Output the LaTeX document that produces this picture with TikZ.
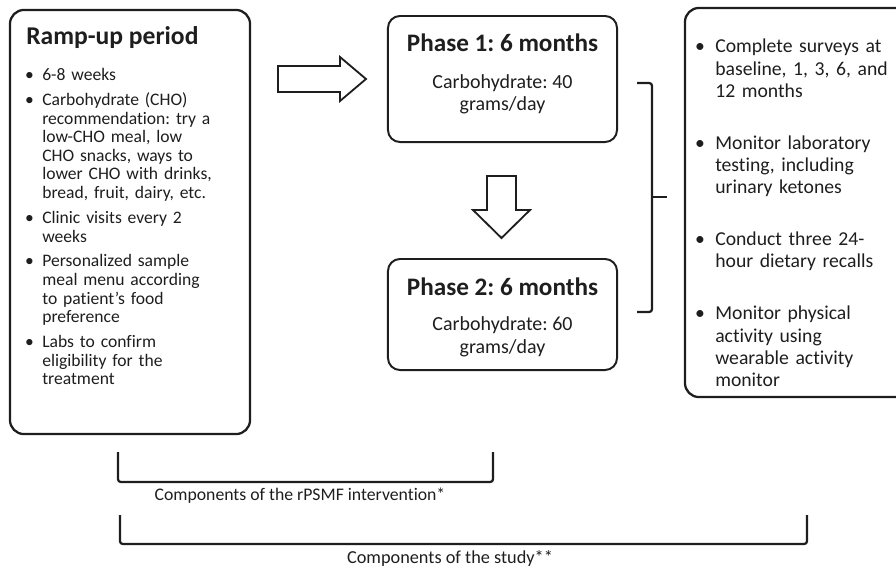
\documentclass[tikz,border=0pt]{standalone}
\usepackage{fontspec}
\setmainfont{Carlito}[Ligatures=CommonOff]
\usepackage{enumitem}
\usetikzlibrary{positioning}

\definecolor{inkgray}{HTML}{1E1E1E}
\frenchspacing

\tikzset{
  panel/.style={draw=inkgray, line width=1.6pt, rounded corners=0.35cm},
  phasebox/.style={draw=inkgray, line width=1.4pt, rounded corners=0.3cm, minimum width=5.725cm},
  phasetext/.style={text=inkgray, align=center, inner sep=0pt, font=\fontsize{14.2}{16}\selectfont},
  listtext/.style={text=inkgray, inner sep=0pt, align=left, anchor=north west},
  blockarrow/.style={draw=inkgray, line width=1.3pt, line join=miter},
  bracket/.style={draw=inkgray, line width=1.6pt, rounded corners=2pt},
  caption/.style={text=inkgray, inner sep=0pt},
}

\begin{document}
\begin{tikzpicture}[x=0.025cm, y=-0.025cm]
    \useasboundingbox (0,0) rectangle (896,568);

    % the three panels
    \node[panel, minimum width=6cm, minimum height=10.6cm] (ramp) at (130,222) {};
    \node[phasebox, minimum height=3.15cm] (phaseone) at (502.5,79) {};
    \node[phasebox, minimum height=2.775cm] (phasetwo) at (502.5,314.5) {};
    \node[panel, minimum width=5.875cm, minimum height=9.725cm] (study) at (802.5,202.5) {};

    % ramp-up text
    \node[text=inkgray, inner sep=0pt, anchor=base west, font=\fontsize{18.2}{21}\selectfont\bfseries] (ramptitle) at (26,44) {Ramp-up period};
    \node[listtext, text width=6cm, font=\fontsize{12.5}{13.2}\selectfont] (ramplist) at (17,62) {
        \begin{itemize}[leftmargin=0.625cm, labelsep=0.21cm, nosep, itemsep=4.5pt]
            \item 6-8 weeks
            \item Carbohydrate (CHO)\\ recommendation: try a\\ low-CHO meal, low\\ CHO snacks, ways to\\ lower CHO with drinks,\\ bread, fruit, dairy, etc.
            \item Clinic visits every 2\\ weeks
            \item Personalized sample\\ meal menu according\\ to patient’s food\\ preference
            \item Labs to confirm\\ eligibility for the\\ treatment
        \end{itemize}
    };

    % phase text
    \node[phasetext, anchor=north] (phaseonetxt) at ([yshift=-0.47cm]phaseone.north) {{\fontsize{17.9}{20}\selectfont\bfseries Phase 1: 6 months}\\[10pt] Carbohydrate: 40\\ grams/day};
    \node[phasetext, anchor=north] (phasetwotxt) at ([yshift=-0.49cm]phasetwo.north) {{\fontsize{17.9}{20}\selectfont\bfseries Phase 2: 6 months}\\[9pt] Carbohydrate: 60\\ grams/day};

    % study text
    \node[listtext, text width=6cm, font=\fontsize{14}{15.9}\selectfont] (studylist) at (690,30) {
        \begin{itemize}[leftmargin=0.625cm, labelsep=0.26cm, nosep, itemsep=20.9pt]
            \item Complete surveys at\\ baseline, 1, 3, 6, and\\ 12 months
            \item Monitor laboratory\\ testing, including\\ urinary ketones
            \item Conduct three 24-\\ hour dietary recalls
            \item Monitor physical\\ activity using\\ wearable activity\\ monitor
        \end{itemize}
    };

    % block arrows
    \draw[blockarrow] (278,66) -- (340,66) -- (340,57) -- (366,79) -- (340,101) -- (340,92) -- (278,92) -- cycle;
    \draw[blockarrow] (487,176) -- (516,176) -- (516,210) -- (530,210) -- (501.5,238) -- (473,210) -- (487,210) -- cycle;

    % brackets
    \draw[bracket] (637,83) -- (652,83) -- (652,312) -- (637,312);
    \draw[bracket] (652,197) -- (667,197);
    \draw[bracket] (118,452) -- (118,482) -- (493,482) -- (493,452);
    \draw[bracket] (120,515) -- (120,544) -- (807,544) -- (807,515);

    \node[caption, font=\fontsize{12.6}{15}\selectfont] (capintervention) at (300,496) {Components of the rPSMF intervention*};
    \node[caption, font=\fontsize{13}{15}\selectfont] (capstudy) at (450,558) {Components of the study**};
\end{tikzpicture}
\end{document}
